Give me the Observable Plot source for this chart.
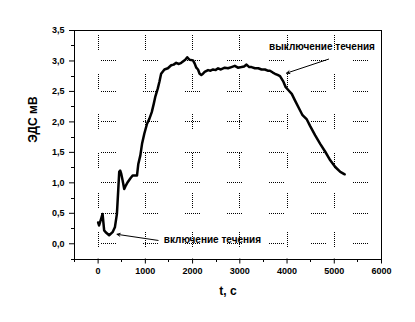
<!DOCTYPE html>
<html>
<head>
<meta charset="utf-8">
<script src="https://cdn.jsdelivr.net/npm/d3@7"></script>
<script src="https://cdn.jsdelivr.net/npm/@observablehq/plot@0.6"></script>
<style>
  html, body { margin: 0; padding: 0; background: #fff; }
</style>
</head>
<body>
<div id="chart"></div>
<script>
// time, s
const tValues = [0, 20, 60, 94, 128, 160, 234, 306, 355, 398, 426, 447, 468, 489, 519, 553, 589, 626, 681, 731, 823, 851, 894, 930, 979, 1036, 1085, 1136, 1179, 1213, 1264, 1298, 1334, 1404, 1477, 1547, 1600, 1653, 1710, 1760, 1845, 1887, 1936, 2009, 2043, 2079, 2115, 2149, 2185, 2220, 2255, 2328, 2380, 2434, 2490, 2540, 2600, 2681, 2750, 2823, 2894, 2960, 3036, 3090, 3142, 3200, 3248, 3320, 3391, 3460, 3532, 3590, 3638, 3700, 3745, 3800, 3851, 3923, 3972, 4030, 4100, 4170, 4255, 4328, 4419, 4490, 4596, 4702, 4809, 4915, 5021, 5128, 5221];
// EMF, mV
const emfValues = [0.35, 0.30, 0.40, 0.49, 0.22, 0.19, 0.14, 0.19, 0.27, 0.49, 0.88, 1.18, 1.20, 1.15, 1.04, 0.90, 0.96, 1.01, 1.07, 1.12, 1.12, 1.31, 1.45, 1.64, 1.81, 1.97, 2.05, 2.16, 2.30, 2.42, 2.55, 2.66, 2.79, 2.86, 2.88, 2.93, 2.94, 2.97, 2.95, 2.97, 3.02, 3.06, 3.02, 3.01, 2.96, 2.89, 2.86, 2.79, 2.77, 2.79, 2.82, 2.85, 2.84, 2.86, 2.85, 2.88, 2.86, 2.89, 2.88, 2.90, 2.92, 2.89, 2.90, 2.91, 2.94, 2.90, 2.90, 2.88, 2.88, 2.86, 2.86, 2.84, 2.84, 2.81, 2.79, 2.77, 2.75, 2.66, 2.57, 2.52, 2.46, 2.35, 2.22, 2.11, 2.04, 1.93, 1.78, 1.64, 1.51, 1.37, 1.26, 1.18, 1.14];

const xDomain = [-500, 6000];
const yDomain = [-0.25, 3.5];
const xTicks = [0, 1000, 2000, 3000, 4000, 5000, 6000];
const xMinorTicks = [-500, 500, 1500, 2500, 3500, 4500, 5500];
const yTicks = [0, 0.5, 1.0, 1.5, 2.0, 2.5, 3.0, 3.5];
const yMinorTicks = [-0.25, 0.25, 0.75, 1.25, 1.75, 2.25, 2.75, 3.25];
const xGrid = [0, 1000, 2000, 3000, 4000, 5000];
const yGrid = [0, 0.5, 1.0, 1.5, 2.0, 2.5, 3.0];

const noteLabels = ["выключение течения", "включение течения"];
const noteX = [4740, 2420];
const noteY = [3.23, 0.065];
const arrowTailX = [4880, 1270];
const arrowTailY = [3.03, 0.055];
const arrowTipX = [3990, 400];
const arrowTipY = [2.80, 0.155];

const series = tValues.map((t, i) => ({t, v: emfValues[i]}));
const notes = noteLabels.map((label, i) => ({label, x: noteX[i], y: noteY[i]}));
const arrows = arrowTailX.map((x, i) => ({x1: x, y1: arrowTailY[i], x2: arrowTipX[i], y2: arrowTipY[i]}));

function dots(n, gap) {
  const a = [];
  for (let i = 0; i < n; i++) a.push(1, 1);
  a.push(1, gap);
  return a.join(",");
}

const plot = Plot.plot({
  width: 415,
  height: 322,
  marginLeft: 74,
  marginRight: 34,
  marginTop: 30,
  marginBottom: 63.5,
  style: {
    fontFamily: "'Liberation Sans', Arial, sans-serif",
    fontWeight: "bold",
    fontSize: "9px",
    background: "#fff",
    color: "#000"
  },
  x: {
    domain: xDomain,
    ticks: xTicks,
    tickSize: 5,
    tickPadding: 4,
    tickFormat: d => String(d),
    label: null
  },
  y: {
    domain: yDomain,
    ticks: yTicks,
    tickSize: 5,
    tickPadding: 5,
    tickFormat: d => d.toFixed(1).replace(".", ","),
    label: null
  },
  marks: [
    Plot.ruleX(xGrid, {x: d => d, y1: yDomain[1], y2: yDomain[0], stroke: "#000", strokeWidth: 1, strokeDasharray: dots(7, 24.5), strokeDashoffset: 34.8, shapeRendering: "crispEdges"}),
    Plot.ruleY(yGrid, {y: d => d, x1: xDomain[0], x2: xDomain[1], stroke: "#000", strokeWidth: 1, strokeDasharray: dots(7, 27), strokeDashoffset: 15.3, shapeRendering: "crispEdges"}),
    Plot.ruleX(xMinorTicks, {x: d => d, y1: yDomain[0], y2: yDomain[0], insetBottom: -3, stroke: "#000", shapeRendering: "crispEdges"}),
    Plot.ruleY(yMinorTicks, {y: d => d, x1: xDomain[0], x2: xDomain[0], insetLeft: -3, stroke: "#000", shapeRendering: "crispEdges"}),
    Plot.frame({stroke: "#000", strokeWidth: 1, shapeRendering: "crispEdges"}),
    Plot.line(series, {x: "t", y: "v", stroke: "#000", strokeWidth: 2.5, strokeLinejoin: "round"}),
    Plot.arrow(arrows, {x1: "x1", y1: "y1", x2: "x2", y2: "y2", stroke: "#000", strokeWidth: 1, headLength: 5, headAngle: 50}),
    Plot.text(notes, {x: "x", y: "y", text: "label", fontSize: 10, fontWeight: "bold", fill: "#000"}),
    Plot.text(["t, c"], {frameAnchor: "bottom", dy: 32, lineAnchor: "middle", fontSize: 12, fontWeight: "bold", fill: "#000"}),
    Plot.text(["ЭДС мВ"], {frameAnchor: "left", dx: -41, dy: -2, rotate: -90, fontSize: 12, fontWeight: "bold", fill: "#000"})
  ]
});
document.getElementById("chart").appendChild(plot);
</script>
</body>
</html>
